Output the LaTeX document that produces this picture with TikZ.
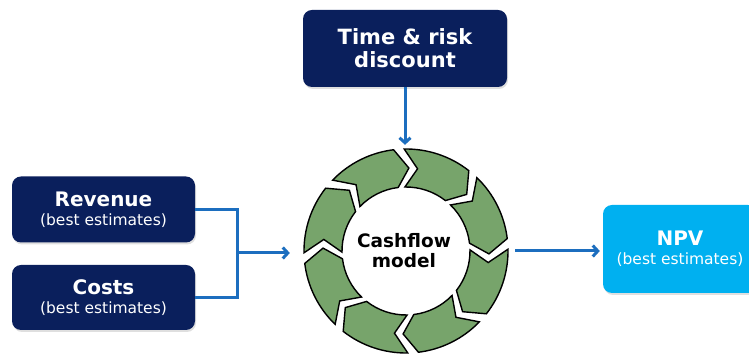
\documentclass[tikz,border=0pt]{standalone}
\usepackage{fontspec}
\setmainfont{DejaVu Sans}
\usetikzlibrary{arrows.meta,positioning,shadows}

\definecolor{navy}{HTML}{0A1F5C}
\definecolor{skyblue}{HTML}{00B0F0}
\definecolor{flowblue}{HTML}{1C6EBF}
\definecolor{leaf}{HTML}{77A46B}

\newcommand{\headtxt}[1]{{\fontsize{20}{19}\selectfont\bfseries #1}}

\tikzset{
  darkbox/.style={fill=navy, rounded corners=9pt, text=white, align=center, inner sep=0pt,
    minimum width=183pt, minimum height=66pt, font=\fontsize{15.5}{19}\selectfont,
    drop shadow={opacity=0.25, shadow xshift=1pt, shadow yshift=-2pt}},
  flow/.style={line width=3pt, flowblue, -{Straight Barb[length=5pt, width=11pt]}},
  chevron/.style={fill=leaf, draw=black, line width=1.4pt, line join=miter}
}

\begin{document}
\begin{tikzpicture}[x=1pt, y=1pt]
    \useasboundingbox (0,0) rectangle (749,355);

    \node[circle, minimum size=204pt, inner sep=0pt] (cycle) at (406,104) {};
    \node[align=center, font=\fontsize{18.5}{20}\selectfont\bfseries] (cash) at (404,104) {Cashflow\\model};

    \node[darkbox, minimum width=204pt, minimum height=77pt, font=\fontsize{21}{23}\selectfont\bfseries] (time) at (405,306.5) {Time \& risk\\discount};
    \node[darkbox] (rev) at (103.5,145.5) {\headtxt{Revenue}\\(best estimates)};
    \node[darkbox, minimum height=65pt] (cost) at (103.5,57.5) {\headtxt{Costs}\\(best estimates)};
    \node[darkbox, fill=skyblue, minimum width=154pt, minimum height=88pt] (npv) at (680,106) {\headtxt{NPV}\\(best estimates)};

    % ring of arrows, clockwise
    \begin{scope}[shift={(cycle.center)}]
      \foreach \k in {0,...,7} {
        \pgfmathsetmacro{\ta}{91-45*\k}
        \pgfmathsetmacro{\hb}{\ta-39}
        \draw[chevron] (\ta:102pt) arc[start angle=\ta, end angle=\hb, radius=102pt]
          -- (\hb-9:83pt) -- (\hb:64pt)
          arc[start angle=\hb, end angle=\ta, radius=64pt]
          -- (\ta-9:83pt) -- cycle;
      }
    \end{scope}

    \coordinate (jn) at (237,102);
    \draw[line width=3pt, flowblue] (rev.east) -| (jn) |- (cost.east);
    \draw[flow, shorten >=14pt] (jn) -- (cycle.west |- jn);
    \draw[flow, shorten >=4pt] (time.south) -- (time.south |- cycle.north);
    \draw[flow, shorten <=7pt, shorten >=3pt] (cycle.east) -- (cycle.east -| npv.west);
\end{tikzpicture}
\end{document}
